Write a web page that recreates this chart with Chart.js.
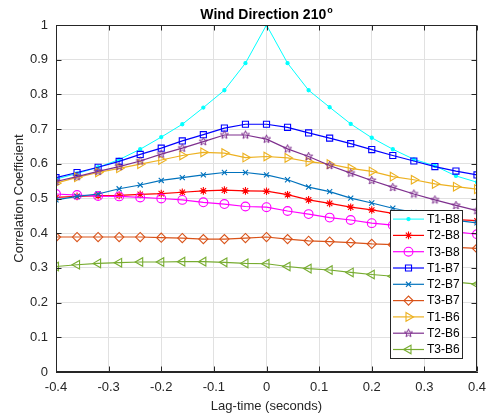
<!DOCTYPE html>
<html>
<head>
<meta charset="utf-8">
<script src="https://cdn.jsdelivr.net/npm/chart.js@4/dist/chart.umd.min.js"></script>
<style>
  html, body { margin: 0; padding: 0; background: #ffffff; }
  canvas { display: block; }
</style>
</head>
<body>
<canvas id="c" width="487" height="419"></canvas>
<script>
// Lag times (seconds)
const lagTimes = [-0.40, -0.36, -0.32, -0.28, -0.24, -0.20, -0.16, -0.12, -0.08, -0.04, 0.00,
                   0.04,  0.08,  0.12,  0.16,  0.20,  0.24,  0.28,  0.32,  0.36, 0.40];

// Correlation coefficient per sensor pair
const t1b8 = [0.556, 0.572, 0.590, 0.612, 0.642, 0.677, 0.714, 0.762, 0.812, 0.890, 1.000,
              0.890, 0.812, 0.763, 0.715, 0.675, 0.642, 0.613, 0.594, 0.565, 0.547];
const t2b8 = [0.503, 0.506, 0.508, 0.509, 0.512, 0.514, 0.518, 0.522, 0.524, 0.522, 0.521,
              0.511, 0.496, 0.486, 0.475, 0.467, 0.457, 0.450, 0.444, 0.439, 0.436];
const t3b8 = [0.513, 0.510, 0.507, 0.506, 0.503, 0.500, 0.496, 0.489, 0.484, 0.477, 0.475,
              0.464, 0.455, 0.445, 0.438, 0.429, 0.423, 0.417, 0.411, 0.404, 0.397];
const t1b7 = [0.560, 0.575, 0.590, 0.607, 0.627, 0.645, 0.666, 0.684, 0.703, 0.714, 0.714,
              0.705, 0.689, 0.674, 0.658, 0.641, 0.624, 0.608, 0.592, 0.579, 0.568];
const t2b7 = [0.496, 0.506, 0.513, 0.528, 0.539, 0.552, 0.560, 0.568, 0.575, 0.575, 0.568,
              0.554, 0.533, 0.520, 0.501, 0.487, 0.472, 0.460, 0.448, 0.437, 0.430];
const t3b7 = [0.389, 0.389, 0.389, 0.389, 0.389, 0.387, 0.386, 0.383, 0.383, 0.386, 0.389,
              0.383, 0.378, 0.376, 0.373, 0.369, 0.367, 0.365, 0.362, 0.359, 0.356];
const t1b6 = [0.544, 0.561, 0.575, 0.587, 0.599, 0.611, 0.624, 0.633, 0.631, 0.618, 0.621,
              0.617, 0.606, 0.599, 0.587, 0.578, 0.563, 0.554, 0.542, 0.534, 0.527];
const t2b6 = [0.549, 0.563, 0.578, 0.592, 0.608, 0.628, 0.645, 0.664, 0.683, 0.683, 0.671,
              0.643, 0.621, 0.595, 0.573, 0.552, 0.532, 0.513, 0.496, 0.480, 0.465];
const t3b6 = [0.304, 0.309, 0.313, 0.315, 0.317, 0.317, 0.318, 0.318, 0.316, 0.313, 0.312,
              0.304, 0.298, 0.294, 0.287, 0.281, 0.276, 0.270, 0.265, 0.259, 0.253];

const seriesNames = ['T1-B8', 'T2-B8', 'T3-B8', 'T1-B7', 'T2-B7', 'T3-B7', 'T1-B6', 'T2-B6', 'T3-B6'];
const seriesValues = [t1b8, t2b8, t3b8, t1b7, t2b7, t3b7, t1b6, t2b6, t3b6];

// Axis ticks
const xTicks = [-0.4, -0.3, -0.2, -0.1, 0, 0.1, 0.2, 0.3, 0.4];
const yTicks = [0, 0.1, 0.2, 0.3, 0.4, 0.5, 0.6, 0.7, 0.8, 0.9, 1];

const FONT = '"Liberation Sans", Arial, Helvetica, sans-serif';
const AXIS_COLOR = '#262626';

// Five-pointed star marker (outline)
function pentagram(color, r) {
  const s = Math.ceil(r * 2 + 4);
  const c = document.createElement('canvas');
  c.width = s; c.height = s;
  const g = c.getContext('2d');
  g.strokeStyle = color;
  g.lineWidth = 1.0;
  g.lineJoin = 'miter';
  g.beginPath();
  for (let k = 0; k < 10; k++) {
    const ang = -Math.PI / 2 + k * Math.PI / 5;
    const rr = (k % 2) ? r * 0.42 : r;
    const px = s / 2 + rr * Math.cos(ang), py = s / 2 + rr * Math.sin(ang);
    if (k === 0) g.moveTo(px, py); else g.lineTo(px, py);
  }
  g.closePath();
  g.stroke();
  return c;
}

const styles = [
  { color: '#00ffff', pointStyle: 'circle',   radius: 1.6, rotation: 0,   fill: true,  width: 1.0 },
  { color: '#ff0000', pointStyle: 'star',     radius: 3.8, rotation: 0,   fill: false, width: 1.2 },
  { color: '#ff00ff', pointStyle: 'circle',   radius: 4.4, rotation: 0,   fill: false, width: 1.2 },
  { color: '#0000ff', pointStyle: 'rect',     radius: 4.3, rotation: 0,   fill: false, width: 1.2 },
  { color: '#0072bd', pointStyle: 'crossRot', radius: 3.6, rotation: 0,   fill: false, width: 1.2 },
  { color: '#d95319', pointStyle: 'rectRot',  radius: 4.6, rotation: 0,   fill: false, width: 1.2 },
  { color: '#edb120', pointStyle: 'triangle', radius: 5.0, rotation: 90,  fill: false, width: 1.2 },
  { color: '#7e2f8e', pointStyle: pentagram('#7e2f8e', 4.3), radius: 4.3, rotation: 0, fill: false, width: 1.2 },
  { color: '#77ac30', pointStyle: 'triangle', radius: 5.0, rotation: -90, fill: false, width: 1.2 },
];

const datasets = seriesNames.map((name, i) => {
  const st = styles[i];
  return {
    label: name,
    data: lagTimes.map((t, k) => ({ x: t, y: seriesValues[i][k] })),
    borderColor: st.color,
    borderWidth: st.width,
    pointStyle: st.pointStyle,
    pointRadius: st.radius,
    pointRotation: st.rotation,
    pointBorderColor: st.color,
    pointBackgroundColor: st.fill ? st.color : 'rgba(0,0,0,0)',
    pointBorderWidth: 1.1,
    tension: 0,
    fill: false,
    order: seriesNames.length - i
  };
});

// Title with superscript degree mark
const titlePlugin = {
  id: 'plotTitle',
  afterDraw(chart) {
    const ctx = chart.ctx;
    const area = chart.chartArea;
    const main = 'Wind Direction 210';
    const sup = 'o';
    ctx.save();
    ctx.fillStyle = '#000000';
    ctx.textBaseline = 'alphabetic';
    ctx.font = 'bold 14px ' + FONT;
    const w1 = ctx.measureText(main).width;
    ctx.font = 'bold 9px ' + FONT;
    const w2 = ctx.measureText(sup).width;
    const x0 = (area.left + area.right) / 2 - (w1 + w2 + 1) / 2;
    ctx.font = 'bold 14px ' + FONT;
    ctx.textAlign = 'left';
    ctx.fillText(main, x0, 18.5);
    ctx.font = 'bold 9px ' + FONT;
    ctx.fillText(sup, x0 + w1 + 1, 12.5);
    ctx.restore();
  }
};

// Box outline with inward tick marks on all four sides
const boxPlugin = {
  id: 'axesBox',
  afterDatasetsDraw(chart) {
    const ctx = chart.ctx;
    const a = chart.chartArea;
    const xs = chart.scales.x, ys = chart.scales.y;
    const L = Math.round(a.left) + 0.5, R = Math.round(a.right) - 0.5;
    const T = Math.round(a.top) + 0.5, B = Math.round(a.bottom) - 0.5;
    ctx.save();
    ctx.strokeStyle = AXIS_COLOR;
    ctx.lineWidth = 1;
    ctx.beginPath();
    xTicks.forEach(v => {
      const px = Math.round(xs.getPixelForValue(v)) + 0.5;
      ctx.moveTo(px, B); ctx.lineTo(px, B - 5);
      ctx.moveTo(px, T); ctx.lineTo(px, T + 5);
    });
    yTicks.forEach(v => {
      const py = Math.round(ys.getPixelForValue(v)) + 0.5;
      ctx.moveTo(L, py); ctx.lineTo(L + 5, py);
      ctx.moveTo(R, py); ctx.lineTo(R - 5, py);
    });
    ctx.stroke();
    ctx.beginPath();
    ctx.rect(L, T, R - L, B - T);
    ctx.stroke();
    ctx.restore();
  }
};

// Legend box inside the plot, bottom-right
const legendPlugin = {
  id: 'insideLegend',
  afterDatasetsDraw(chart) {
    const ctx = chart.ctx;
    const a = chart.chartArea;
    const boxR = a.right - 15, boxB = a.bottom - 14;
    const boxW = 72, rowH = 16.3;
    const n = chart.data.datasets.length;
    const boxH = rowH * n + 1.5;
    const boxL = boxR - boxW, boxT = boxB - boxH;
    ctx.save();
    ctx.fillStyle = '#ffffff';
    ctx.fillRect(boxL, boxT, boxW, boxH);
    ctx.strokeStyle = '#262626';
    ctx.lineWidth = 1;
    ctx.strokeRect(Math.round(boxL) + 0.5, Math.round(boxT) + 0.5, Math.round(boxW), Math.round(boxH));
    chart.data.datasets.forEach((ds, i) => {
      const y = boxT + 9.3 + i * rowH;
      ctx.strokeStyle = ds.borderColor;
      ctx.lineWidth = ds.borderWidth;
      ctx.beginPath();
      ctx.moveTo(boxL + 3, y);
      ctx.lineTo(boxL + 34, y);
      ctx.stroke();
      ctx.fillStyle = ds.pointBackgroundColor;
      ctx.strokeStyle = ds.pointBorderColor;
      ctx.lineWidth = ds.pointBorderWidth;
      if (Chart.helpers && Chart.helpers.drawPoint) {
        Chart.helpers.drawPoint(ctx, {
          pointStyle: ds.pointStyle,
          radius: ds.pointRadius,
          rotation: ds.pointRotation,
          borderWidth: ds.pointBorderWidth
        }, boxL + 18.5, y);
      }
      ctx.fillStyle = '#000000';
      ctx.font = '12px ' + FONT;
      ctx.textAlign = 'left';
      ctx.textBaseline = 'middle';
      ctx.fillText(ds.label, boxL + 37, y + 0.5);
    });
    ctx.restore();
  }
};

new Chart(document.getElementById('c'), {
  type: 'line',
  data: { datasets },
  options: {
    responsive: false,
    animation: false,
    devicePixelRatio: 1,
    layout: { padding: { top: 25, right: 10, left: 0, bottom: 0 } },
    plugins: {
      legend: { display: false },
      title: { display: false },
      tooltip: { enabled: false }
    },
    scales: {
      x: {
        type: 'linear',
        min: -0.4,
        max: 0.4,
        afterFit(s) { s.height = 47; s.paddingLeft = 0; s.paddingRight = 0; },
        afterBuildTicks(s) { s.ticks = xTicks.map(v => ({ value: v })); },
        grid: { color: '#e1e1e1', lineWidth: 1, drawTicks: false },
        border: { display: true, color: AXIS_COLOR, width: 1 },
        ticks: {
          padding: 8,
          color: AXIS_COLOR,
          font: { family: FONT, size: 13 },
          maxRotation: 0,
          autoSkip: false,
          callback: v => String(v)
        },
        title: {
          display: true,
          text: 'Lag-time (seconds)',
          color: AXIS_COLOR,
          font: { family: FONT, size: 13 },
          padding: { top: 0, bottom: 4.5 }
        }
      },
      y: {
        type: 'linear',
        min: 0,
        max: 1,
        afterFit(s) { s.width = 56; s.paddingTop = 0; s.paddingBottom = 0; },
        afterBuildTicks(s) { s.ticks = yTicks.map(v => ({ value: v })); },
        grid: { color: '#e1e1e1', lineWidth: 1, drawTicks: false },
        border: { display: true, color: AXIS_COLOR, width: 1 },
        ticks: {
          padding: 8,
          color: AXIS_COLOR,
          font: { family: FONT, size: 13 },
          autoSkip: false,
          callback: v => String(v)
        },
        title: {
          display: true,
          text: 'Correlation Coefficient',
          color: AXIS_COLOR,
          font: { family: FONT, size: 13 },
          padding: { top: 12, bottom: 0 }
        }
      }
    }
  },
  plugins: [boxPlugin, legendPlugin, titlePlugin]
});
</script>
</body>
</html>
